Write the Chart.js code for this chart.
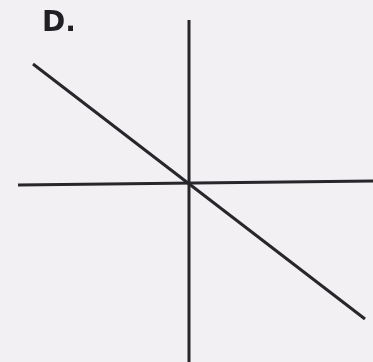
<!DOCTYPE html>
<html>
<head>
<meta charset="utf-8">
<script src="https://cdn.jsdelivr.net/npm/chart.js@4"></script>
<style>
html,body{margin:0;padding:0;background:#f2f0f2;overflow:hidden;}
#wrap{position:relative;width:373px;height:362px;}
#lbl{position:absolute;left:42px;top:5px;font-family:"DejaVu Sans",sans-serif;font-weight:bold;font-size:28px;color:#1f1f24;}
</style>
</head>
<body>
<div id="wrap">
<canvas id="c" width="373" height="362"></canvas>
<div id="lbl">D.</div>
</div>
<script>
// hand-drawn graph, units = pixels relative to the origin
const panelLabel = "D.";
const xAxisLine = [{x:-170,y:-2},{x:185,y:2}];
const yAxisLine = [{x:1,y:163},{x:1,y:-179}];
const graphLine = [{x:-155,y:119},{x:177,y:-136}];
const xRange = [-188,185];
const yRange = [-179,183];

const ink = '#26262b';
const ds = (data, w) => ({data, showLine:true, borderColor:ink, borderWidth:w, pointRadius:0, fill:false, tension:0});

new Chart(document.getElementById('c'), {
  type:'scatter',
  data:{datasets:[ds(xAxisLine,3), ds(yAxisLine,3), ds(graphLine,3)]},
  options:{
    responsive:false, animation:false,
    layout:{padding:0},
    plugins:{legend:{display:false}, tooltip:{enabled:false}, title:{display:false}},
    scales:{
      x:{type:'linear', min:xRange[0], max:xRange[1], display:false},
      y:{type:'linear', min:yRange[0], max:yRange[1], display:false}
    }
  }
});
document.getElementById('lbl').textContent = panelLabel;
</script>
</body>
</html>
